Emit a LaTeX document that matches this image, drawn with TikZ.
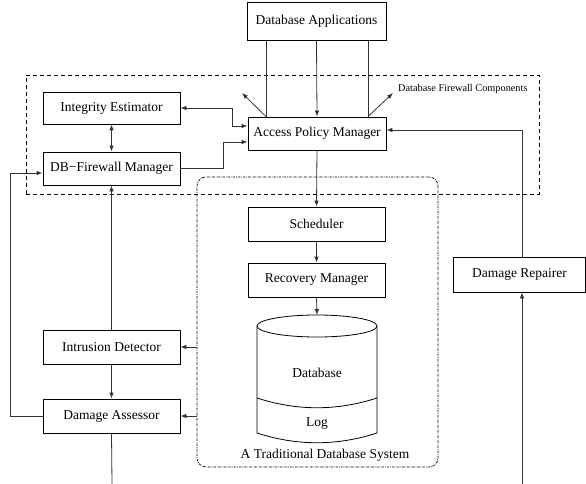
\documentclass[tikz,border=0pt]{standalone}
\usepackage{fontspec}
\setmainfont{Liberation Serif}
\usetikzlibrary{arrows.meta}
\begin{document}
\begin{tikzpicture}[x=1pt,y=-1pt,
  box/.style={draw,line width=0.8pt,rectangle,inner sep=0pt,font=\fontsize{13.5}{16}\selectfont},
  conn/.style={line width=0.8pt,black!80},
  tip/.style={-{Latex[length=6pt,width=4.5pt]}},
  tips/.style={{Latex[length=6pt,width=4.5pt]}-{Latex[length=6pt,width=4.5pt]}},
  lbl/.style={inner sep=0pt,font=\fontsize{13.5}{16}\selectfont}]
\useasboundingbox (0,0) rectangle (586,484);
% grouping frames
\node[draw,dash pattern=on 4pt off 3pt,line width=0.7pt,inner sep=0pt,minimum width=513pt,minimum height=119pt] (dfc) at (282.5,134.5) {};
\node[draw,dash pattern=on 2.5pt off 1pt on 0.6pt off 1pt,line width=0.7pt,rounded corners=9pt,inner sep=0pt,minimum width=241pt,minimum height=290pt] (tds) at (317.5,322) {};
\node[anchor=west,inner sep=0pt,font=\fontsize{10.3}{12}\selectfont] (dfcl) at (398,89) {Database Firewall Components};
\node[lbl] (tdsl) at (325,455) {A Traditional Database System};
% boxes
\node[box,minimum width=139pt,minimum height=38pt] (dbapp) at (316.5,21) {Database Applications};
\node[box,minimum width=138pt,minimum height=33pt] (apm) at (317,133.5) {Access Policy Manager};
\node[box,minimum width=137pt,minimum height=32pt] (ie) at (111.5,108) {Integrity Estimator};
\node[box,minimum width=137pt,minimum height=33pt] (dbfm) at (111.5,168.5) {DB−Firewall Manager};
\node[box,minimum width=137pt,minimum height=34pt] (sched) at (316.5,224) {Scheduler};
\node[box,minimum width=137pt,minimum height=34pt] (rm) at (316.5,280) {Recovery Manager};
\node[box,minimum width=137pt,minimum height=34pt] (id) at (111.5,347) {Intrusion Detector};
\node[box,minimum width=137pt,minimum height=34pt] (da) at (111.5,416) {Damage Assessor};
\node[box,minimum width=132pt,minimum height=35pt] (dr) at (519.5,274.5) {Damage Repairer};
% database cylinder
\draw[line width=0.8pt] (317,326) ellipse (60 and 11);
\draw[line width=0.8pt] (257,326) -- (257,433) .. controls (297,446) and (337,446) .. (377,433) -- (377,326);
\draw[line width=0.8pt] (257,398) .. controls (297,411) and (337,411) .. (377,398);
\node[lbl] (dbl) at (317,373) {Database};
\node[lbl] (logl) at (317,424) {Log};
\coordinate (cyltop) at (317,315);
% helper coordinates
\coordinate (xl) at (266,0);
\coordinate (xr) at (368,0);
\coordinate (al) at (242,93);
\coordinate (ar) at (393,93);
\coordinate (k1) at (232,126);
\coordinate (k2) at (223,142);
\coordinate (k3) at (10,173);
\coordinate (k4) at (522,130);
\coordinate (b1) at (112,484);
\coordinate (b2) at (522,484);
% connectors
\draw[conn,tip] (dbapp.south) -- (apm.north);
\draw[conn] (dbapp.south -| xl) -- (apm.north -| xl);
\draw[conn] (dbapp.south -| xr) -- (apm.north -| xr);
\draw[conn,tip] (apm.north -| xl) -- (al);
\draw[conn,tip] (apm.north -| xr) -- (ar);
\draw[conn,tips] (ie.east) -| (k1) -- (k1 -| apm.west);
\draw[conn,tip] (dbfm.east) -| (k2) -- (k2 -| apm.west);
\draw[conn,tips] (ie.south) -- (dbfm.north);
\draw[conn,tip] (id.north) -- (dbfm.south);
\draw[conn,tip] (id.south) -- (da.north);
\draw[conn,tip] (da.west) -| (k3) -- (k3 -| dbfm.west);
\draw[conn] (da.south) -- (b1);
\draw[conn,tip] (id.east -| tds.west) -- (id.east);
\draw[conn,tip] (da.east -| tds.west) -- (da.east);
\draw[conn,tip] (apm.south) -- (sched.north);
\draw[conn,tip] (sched.south) -- (rm.north);
\draw[conn,tip] (rm.south) -- (cyltop);
\draw[conn,tip] (dr.north -| k4) -- (k4) -- (k4 -| apm.east);
\draw[conn,tip] (b2) -- (b2 |- dr.south);
\end{tikzpicture}
\end{document}
